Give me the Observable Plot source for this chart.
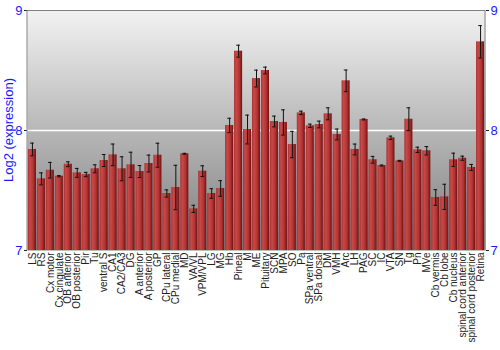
<!DOCTYPE html>
<html>
<head>
<meta charset="utf-8">
<script src="https://cdn.jsdelivr.net/npm/d3@7"></script>
<script src="https://cdn.jsdelivr.net/npm/@observablehq/plot@0.6"></script>
<style>
  html, body { margin: 0; padding: 0; background: #fff; }
  #chart { width: 500px; height: 350px; }
</style>
</head>
<body>
<div id="chart"></div>
<script>
const regions = ["LS","RS","Cx motor","Cx cingulate","OB anterior","OB posterior","Pir","Tu","ventral S","CA1","CA2/CA3","DG","A anterior","A posterior","GP","CPu lateral","CPu medial","MD","VA/VL","VPM/VPL","LG","MG","Hb","Pineal","M","ME","Pituitary","SCN","MPA","SO","Pa","SPa ventral","SPa dorsal","DM","VMH","Arc","LH","PAG","SC","IC","VTA","SN","Tg","Pn","MVe","Cb vermis","Cb lobe","Cb nucleus","spinal cord anterior","spinal cord posterior","Retina"];
const expression = [7.842,7.597,7.669,7.619,7.719,7.647,7.633,7.681,7.75,7.797,7.681,7.714,7.658,7.725,7.794,7.475,7.525,7.806,7.347,7.661,7.475,7.517,8.042,8.661,8.008,8.433,8.5,8.075,8.067,7.883,8.147,8.039,8.05,8.139,7.967,8.414,7.842,8.092,7.756,7.708,7.939,7.747,8.094,7.839,7.831,7.442,7.447,7.756,7.769,7.692,8.739];
const errors = [0.053,0.05,0.065,0.005,0.02,0.037,0.018,0.033,0.05,0.09,0.1,0.105,0.05,0.07,0.1,0.03,0.185,0.004,0.03,0.045,0.04,0.065,0.06,0.05,0.12,0.07,0.028,0.045,0.105,0.11,0.014,0.014,0.028,0.05,0.045,0.09,0.045,0.004,0.028,0.004,0.014,0.004,0.095,0.022,0.035,0.065,0.105,0.055,0.017,0.025,0.135];
const yTicks = [7, 8, 9];

const data = regions.map((r, i) => ({region: r, value: expression[i], err: errors[i]}));
const font = "'Liberation Sans', Arial, sans-serif";

const plot = Plot.plot({
  width: 500,
  height: 350,
  marginLeft: 27,
  marginRight: 15,
  marginTop: 10,
  marginBottom: 100,
  style: {fontFamily: font, background: "#fff"},
  x: {domain: regions, padding: 0.1, label: null},
  y: {domain: [7, 9], label: null},
  marks: [
    Plot.frame({fill: "url(#bgGrad)", stroke: null}),
    Plot.ruleY([8], {stroke: "#ffffff", strokeWidth: 1.5}),
    Plot.barY(data, {x: "region", y1: 7, y2: "value", fill: "url(#barGrad)"}),
    Plot.ruleX(data, {x: "region", y1: d => d.value - d.err, y2: d => d.value + d.err, stroke: "#111", strokeWidth: 1}),
    Plot.tickY(data, {x: "region", y: d => d.value - d.err, stroke: "#111", insetLeft: 2.2, insetRight: 2.2}),
    Plot.tickY(data, {x: "region", y: d => d.value + d.err, stroke: "#111", insetLeft: 2.2, insetRight: 2.2}),
    Plot.ruleY([9], {stroke: "#808080"}),
    Plot.axisY({anchor: "left", ticks: yTicks, tickFormat: d3.format("d"), tickSize: 3, tickPadding: 2, fill: "#1a1aff", stroke: "#222", fontSize: 13, label: null}),
    Plot.axisY({anchor: "right", ticks: yTicks, tickFormat: d3.format("d"), tickSize: 3, tickPadding: 2, fill: "#1a1aff", stroke: "#222", fontSize: 13, label: null}),
    Plot.axisX({tickRotate: -90, tickSize: 0, tickPadding: 2, fontSize: 10, fill: "#222", label: null})
  ]
});

const svg = d3.select(plot);
const defs = svg.insert("defs", ":first-child");
const bg = defs.append("linearGradient").attr("id", "bgGrad").attr("x1", 0).attr("y1", 0).attr("x2", 0).attr("y2", 1);
bg.append("stop").attr("offset", "0%").attr("stop-color", "#f2f2f2");
bg.append("stop").attr("offset", "100%").attr("stop-color", "#7c7c7c");
const bar = defs.append("linearGradient").attr("id", "barGrad").attr("x1", 0).attr("y1", 0).attr("x2", 1).attr("y2", 0);
bar.append("stop").attr("offset", "0%").attr("stop-color", "#a83232");
bar.append("stop").attr("offset", "25%").attr("stop-color", "#c94848");
bar.append("stop").attr("offset", "65%").attr("stop-color", "#b33434");
bar.append("stop").attr("offset", "100%").attr("stop-color", "#6e1010");

// side borders of the plot frame
[27, 485].forEach(x => svg.append("line").attr("x1", x).attr("x2", x).attr("y1", 10).attr("y2", 250).attr("stroke", "#808080"));

// y axis title
svg.append("text")
  .attr("transform", "translate(13,130) rotate(-90)")
  .attr("text-anchor", "middle")
  .attr("font-family", font)
  .attr("font-size", 13)
  .attr("fill", "#1a1aff")
  .text("Log2 (expression)");

document.getElementById("chart").appendChild(plot);
</script>
</body>
</html>
